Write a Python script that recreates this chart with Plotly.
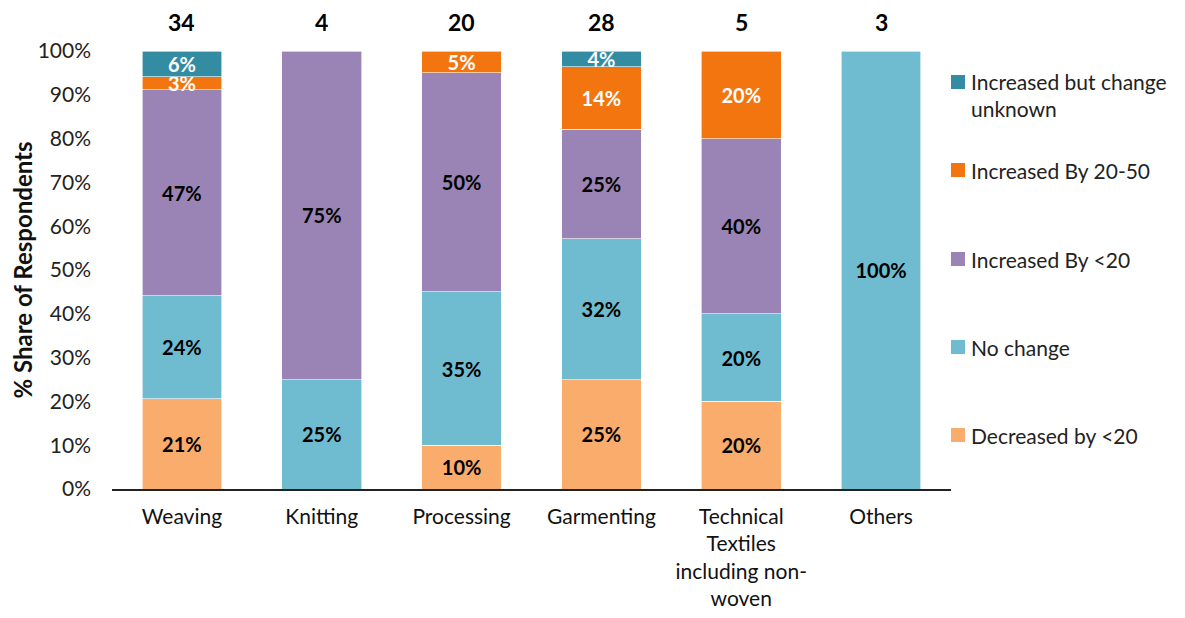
import plotly.graph_objects as go

categories = ["Weaving", "Knitting", "Processing", "Garmenting",
              "Technical<br>Textiles<br>including non-<br>woven", "Others"]
respondents = [34, 4, 20, 28, 5, 3]

decreased_lt20 = [20.6, None, 10.0, 25.0, 20.0, None]
no_change = [23.5, 25.0, 35.0, 32.1, 20.0, 100.0]
increased_lt20 = [47.1, 75.0, 50.0, 25.0, 40.0, None]
increased_20_50 = [2.9, None, 5.0, 14.3, 20.0, None]
increased_unknown = [5.9, None, None, 3.6, None, None]

series = [
    ("Decreased by <20", decreased_lt20, "#F9AC6C", "black"),
    ("No change", no_change, "#6FBCD1", "black"),
    ("Increased By <20", increased_lt20, "#9A84B5", "black"),
    ("Increased By 20-50", increased_20_50, "#F3750F", "white"),
    ("Increased but change<br>unknown", increased_unknown, "#348CA3", "white"),
]

FONT = "Lato, 'Open Sans', sans-serif"

# page body has an 8px margin; figure is sized so the plot area lands
# at x 112..951, y 51..489 of the window
W, H = 1169, 602
ML, MT = 104, 43
MR = W - (951 - 8)
MB = H - (489 - 8)
PW, PH = 839, 438

fig = go.Figure()
for name, vals, color, tcolor in series:
    fig.add_trace(go.Bar(
        x=categories, y=vals, name=name,
        marker=dict(color=color, line=dict(color="white", width=0.6)),
        text=[f"{v:.0f}%" if v is not None else "" for v in vals],
        textposition="inside", insidetextanchor="middle", textangle=0,
        constraintext="none",
        textfont=dict(family=FONT, size=20, color=tcolor, weight="bold"),
        width=0.57, showlegend=False, hoverinfo="skip",
    ))

# respondent counts above bars
for c, n in zip(categories, respondents):
    fig.add_annotation(x=c, y=(489 - 22) / PH, xref="x", yref="paper", text=f"<b>{n}</b>",
                       showarrow=False, yanchor="middle",
                       font=dict(family=FONT, size=23, color="black"))

# manual legend
legend_items = [
    ("Increased but change<br>unknown", "#348CA3", 82),
    ("Increased By 20-50", "#F3750F", 170),
    ("Increased By <20", "#9A84B5", 259),
    ("No change", "#6FBCD1", 347),
    ("Decreased by <20", "#F9AC6C", 435),
]
for label, color, ysq in legend_items:
    fig.add_shape(type="rect", xref="paper", yref="paper",
                  x0=(951 - 112) / PW, x1=(965 - 112) / PW,
                  y0=(489 - (ysq + 7)) / PH, y1=(489 - (ysq - 7)) / PH,
                  fillcolor=color, line=dict(width=0))
    multi = "<br>" in label
    fig.add_annotation(xref="paper", yref="paper", x=(969 - 112) / PW,
                       y=(489 - ysq + 15) / PH if multi else (489 - ysq) / PH,
                       xanchor="left", yanchor="top" if multi else "middle",
                       align="left", text=label, showarrow=False,
                       font=dict(family=FONT, size=21, color="#222"))

fig.update_layout(
    barmode="stack",
    width=W, height=H,
    margin=dict(l=ML, r=MR, t=MT, b=MB, autoexpand=False),
    plot_bgcolor="white", paper_bgcolor="white",
    font=dict(family=FONT, size=20, color="#222"),
    xaxis=dict(showline=True, linecolor="#222", linewidth=1.5, ticks="",
               tickfont=dict(size=21, color="#111"), showgrid=False,
               ticklabelstandoff=8),
    yaxis=dict(range=[0, 100], dtick=10, ticksuffix="%", showgrid=False,
               zeroline=False, showline=False, tickfont=dict(size=21, color="#222"),
               ticklabelstandoff=20,
               title=dict(text="<b>% Share of Respondents</b>",
                          font=dict(size=24, color="#111"), standoff=2)),
    uniformtext=dict(minsize=20, mode="show"),
)

fig.write_html("out.html")
